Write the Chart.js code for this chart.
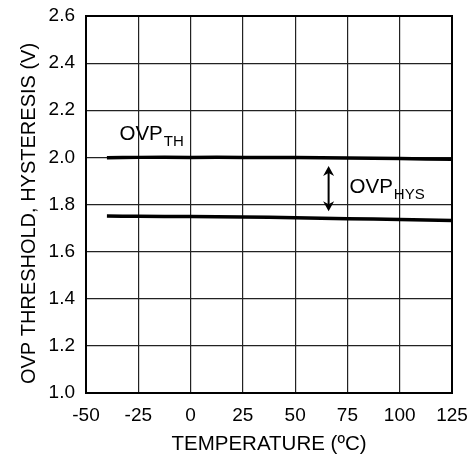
<!DOCTYPE html>
<html>
<head>
<meta charset="utf-8">
<script src="https://cdn.jsdelivr.net/npm/chart.js@4.4.1/dist/chart.umd.min.js"></script>
<style>
  html, body { margin: 0; padding: 0; background: #fff; }
  #wrap { width: 473px; height: 460px; position: relative; }
</style>
</head>
<body>
<div id="wrap"><canvas id="c" width="473" height="460"></canvas></div>
<script>
// ---- data ----
const temperatures = [-40, -25, 0, 25, 50, 75, 100, 125];
const ovpThreshold = [1.998, 2.000, 2.000, 2.000, 1.999, 1.997, 1.995, 1.992];
const ovpHysteresis = [1.751, 1.750, 1.749, 1.747, 1.744, 1.740, 1.736, 1.732];
const xTicks = [-50, -25, 0, 25, 50, 75, 100, 125];
const yTicks = [1.0, 1.2, 1.4, 1.6, 1.8, 2.0, 2.2, 2.4, 2.6];
const xTitle = 'TEMPERATURE (ºC)';
const yTitle = 'OVP THRESHOLD, HYSTERESIS (V)';
// annotation anchors in data units
const labelTH = { x: -34, y: 2.074, main: 'OVP', sub: 'TH' };
const labelHYS = { x: 76, y: 1.85, main: 'OVP', sub: 'HYS' };
const arrowHYS = { x: 66, yTop: 1.963, yBottom: 1.771 };

const FONT = '"Liberation Sans", Arial, Helvetica, sans-serif';

function toPts(xs, ys) { return xs.map((x, i) => ({ x: x, y: ys[i] })); }

const decorPlugin = {
  id: 'decor',
  afterDatasetsDraw(chart) {
    const { ctx, chartArea: a, scales: { x, y } } = chart;
    ctx.save();
    // frame
    ctx.strokeStyle = '#000';
    ctx.lineWidth = 2;
    ctx.strokeRect(a.left, a.top, a.right - a.left, a.bottom - a.top);

    // labels
    ctx.fillStyle = '#000';
    ctx.textBaseline = 'alphabetic';
    ctx.textAlign = 'left';
    function subLabel(l) {
      const px = x.getPixelForValue(l.x);
      const py = y.getPixelForValue(l.y);
      ctx.font = '20.5px ' + FONT;
      ctx.fillText(l.main, px, py);
      const w = ctx.measureText(l.main).width;
      ctx.font = '15px ' + FONT;
      ctx.fillText(l.sub, px + w + 1, py + 6);
    }
    subLabel(labelTH);
    subLabel(labelHYS);

    // double arrow
    const ax = x.getPixelForValue(arrowHYS.x);
    const at = y.getPixelForValue(arrowHYS.yTop);
    const ab = y.getPixelForValue(arrowHYS.yBottom);
    ctx.strokeStyle = '#000';
    ctx.lineWidth = 2;
    ctx.beginPath();
    ctx.moveTo(ax, at + 6);
    ctx.lineTo(ax, ab - 6);
    ctx.stroke();
    ctx.beginPath();
    ctx.moveTo(ax, at);
    ctx.lineTo(ax - 5.5, at + 10);
    ctx.lineTo(ax, at + 7);
    ctx.lineTo(ax + 5.5, at + 10);
    ctx.closePath();
    ctx.fill();
    ctx.beginPath();
    ctx.moveTo(ax, ab);
    ctx.lineTo(ax - 5.5, ab - 10);
    ctx.lineTo(ax, ab - 7);
    ctx.lineTo(ax + 5.5, ab - 10);
    ctx.closePath();
    ctx.fill();

    // y-axis title
    ctx.font = '20px ' + FONT;
    ctx.textAlign = 'center';
    ctx.textBaseline = 'middle';
    ctx.translate(29, (a.top + a.bottom) / 2 + 9);
    ctx.rotate(-Math.PI / 2);
    ctx.fillText(yTitle, 0, 0);
    ctx.restore();
  }
};

function zeroPad(s) { s.paddingTop = 0; s.paddingBottom = 0; s.paddingLeft = 0; s.paddingRight = 0; }

new Chart(document.getElementById('c'), {
  type: 'line',
  data: {
    datasets: [
      { label: 'OVP TH', data: toPts(temperatures, ovpThreshold), borderColor: '#000', borderWidth: 3.5, pointRadius: 0, tension: 0.3, fill: false },
      { label: 'OVP HYS', data: toPts(temperatures, ovpHysteresis), borderColor: '#000', borderWidth: 3.5, pointRadius: 0, tension: 0.3, fill: false }
    ]
  },
  options: {
    responsive: false,
    animation: false,
    devicePixelRatio: 1,
    layout: { padding: { top: 16, right: 21, left: 0, bottom: 0 } },
    plugins: { legend: { display: false }, tooltip: { enabled: false } },
    scales: {
      x: {
        type: 'linear',
        min: -50, max: 125,
        afterBuildTicks(s) { s.ticks = xTicks.map(v => ({ value: v })); },
        afterFit(s) { s.height = 67; zeroPad(s); },
        grid: { color: '#222', lineWidth: 1.2, drawTicks: false },
        border: { display: false },
        ticks: { color: '#000', padding: 11, maxRotation: 0, autoSkip: false, font: { family: FONT, size: 19 } },
        title: { display: true, text: xTitle, color: '#000', font: { family: FONT, size: 20.5 }, padding: { top: 0, bottom: 3 } }
      },
      y: {
        type: 'linear',
        min: 1.0, max: 2.6,
        afterBuildTicks(s) { s.ticks = yTicks.map(v => ({ value: v })); },
        afterFit(s) { s.width = 86; zeroPad(s); },
        grid: { color: '#222', lineWidth: 1.2, drawTicks: false },
        border: { display: false },
        ticks: { color: '#000', padding: 11, autoSkip: false, font: { family: FONT, size: 19 }, callback: v => Number(v).toFixed(1) },
        title: { display: false }
      }
    }
  },
  plugins: [decorPlugin]
});
</script>
</body>
</html>
